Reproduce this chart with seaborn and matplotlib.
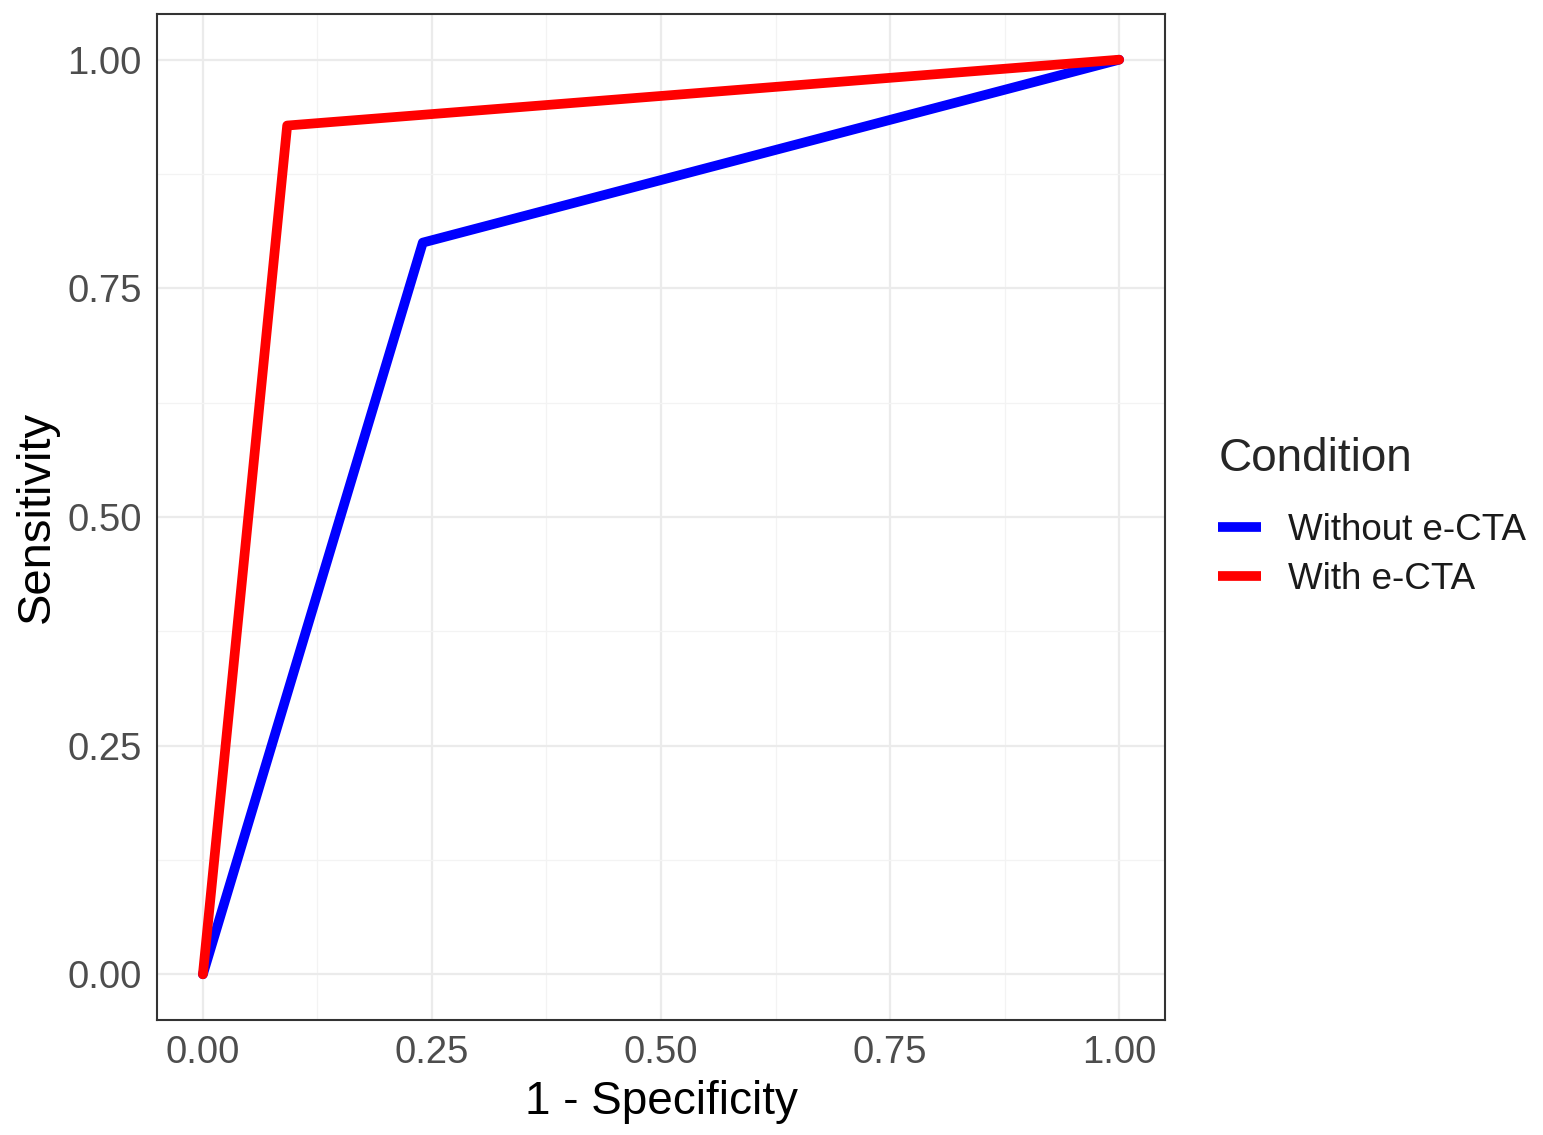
import numpy as np
import pandas as pd
import matplotlib
matplotlib.use("Agg")
import matplotlib.pyplot as plt
import seaborn as sns
from matplotlib.ticker import MultipleLocator

# ROC points
fpr_without = [0.0, 0.24, 1.0]
tpr_without = [0.0, 0.80, 1.0]
fpr_with = [0.0, 0.092, 1.0]
tpr_with = [0.0, 0.928, 1.0]
conditions = ["Without e-CTA", "With e-CTA"]
colors = {"Without e-CTA": "#0000FF", "With e-CTA": "#FF0000"}

df = pd.concat([
    pd.DataFrame({"fpr": fpr_without, "tpr": tpr_without, "Condition": conditions[0]}),
    pd.DataFrame({"fpr": fpr_with, "tpr": tpr_with, "Condition": conditions[1]}),
])

sns.set_style("white")
plt.rcParams["font.family"] = ["Liberation Sans", "DejaVu Sans"]

fig = plt.figure(figsize=(15.43, 11.35), dpi=100)
ax = fig.add_axes([0.1018, 0.1013, 0.6532, 0.8864])

sns.lineplot(data=df, x="fpr", y="tpr", hue="Condition", hue_order=conditions,
             palette=colors, linewidth=7, sort=False, estimator=None, ax=ax,
             zorder=3)

ax.set_xlim(-0.05, 1.05)
ax.set_ylim(-0.05, 1.05)
ticks = [0.0, 0.25, 0.5, 0.75, 1.0]
ax.set_xticks(ticks)
ax.set_yticks(ticks)
ax.set_xticklabels([f"{t:.2f}" for t in ticks])
ax.set_yticklabels([f"{t:.2f}" for t in ticks])
ax.xaxis.set_minor_locator(MultipleLocator(0.125))
ax.yaxis.set_minor_locator(MultipleLocator(0.125))
ax.grid(True, which="major", color="#EBEBEB", linewidth=1.6, zorder=0)
ax.grid(True, which="minor", color="#F3F3F3", linewidth=0.9, zorder=0)
ax.set_axisbelow(True)

for s in ax.spines.values():
    s.set_color("#333333")
    s.set_linewidth(1.5)

ax.tick_params(axis="both", which="major", length=6, width=1.4, color="#333333",
               labelsize=27.5, labelcolor="#4D4D4D", pad=5)
ax.tick_params(axis="both", which="minor", length=0)

ax.set_xlabel("1 - Specificity", fontsize=33, color="black", labelpad=6)
ax.set_ylabel("Sensitivity", fontsize=34, color="black", labelpad=6)

leg = ax.legend(title="Condition", loc="center left", bbox_to_anchor=(1.02, 0.50),
                frameon=False, fontsize=26.5, title_fontsize=33, handlelength=1.15,
                handletextpad=0.75, labelspacing=0.4)
leg._legend_box.align = "left"
leg._legend_box.sep = 23  # extra room between title and keys, like ggplot
for line in leg.get_lines():
    line.set_linewidth(7)
    line.set_solid_capstyle("butt")
for t in leg.get_texts():
    t.set_color("#1A1A1A")

fig.savefig("out.png", dpi=100)
